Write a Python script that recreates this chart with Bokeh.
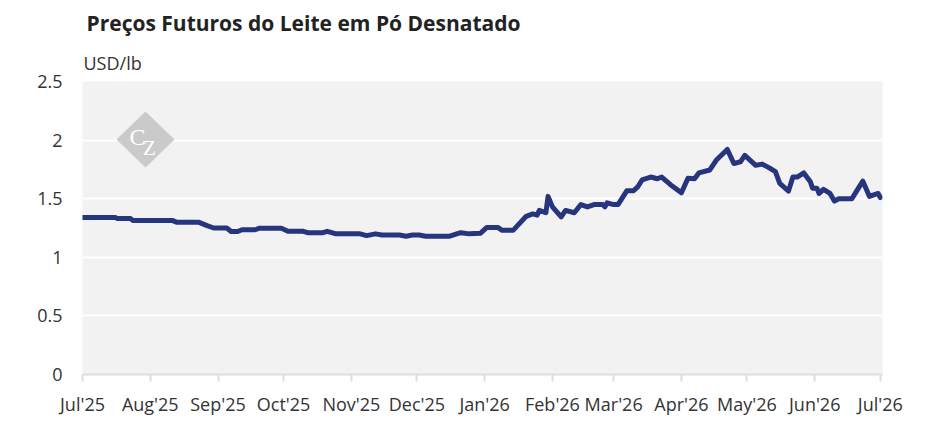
from datetime import datetime
from bokeh.plotting import figure
from bokeh.models import (ColumnDataSource, FixedTicker, Range1d, Label,
                          PolyAnnotation, Title)
from bokeh.embed import file_html
from bokeh.resources import INLINE

TITLE = "Preços Futuros do Leite em Pó Desnatado"
UNIT = "USD/lb"

DATES = [
    "2025-07-01", "2025-07-16", "2025-07-17", "2025-07-23", "2025-07-24", "2025-08-11",
    "2025-08-13", "2025-08-23", "2025-08-27", "2025-08-30", "2025-09-05", "2025-09-07",
    "2025-09-10", "2025-09-12", "2025-09-18", "2025-09-20", "2025-09-30", "2025-10-03",
    "2025-10-10", "2025-10-12", "2025-10-19", "2025-10-21", "2025-10-25", "2025-11-05",
    "2025-11-08", "2025-11-12", "2025-11-15", "2025-11-23", "2025-11-26", "2025-11-29",
    "2025-12-02", "2025-12-05", "2025-12-16", "2025-12-21", "2025-12-25", "2025-12-30",
    "2026-01-02", "2026-01-07", "2026-01-09", "2026-01-14", "2026-01-16", "2026-01-20",
    "2026-01-23", "2026-01-25", "2026-01-26", "2026-01-29", "2026-01-30", "2026-02-01",
    "2026-02-05", "2026-02-07", "2026-02-11", "2026-02-14", "2026-02-17", "2026-02-20",
    "2026-02-24", "2026-02-25", "2026-02-26", "2026-03-01", "2026-03-03", "2026-03-07",
    "2026-03-10", "2026-03-12", "2026-03-14", "2026-03-18", "2026-03-21", "2026-03-23",
    "2026-03-27", "2026-04-01", "2026-04-04", "2026-04-07", "2026-04-09", "2026-04-14",
    "2026-04-17", "2026-04-22", "2026-04-25", "2026-04-28", "2026-04-30", "2026-05-05",
    "2026-05-08", "2026-05-11", "2026-05-14", "2026-05-16", "2026-05-20", "2026-05-22",
    "2026-05-24", "2026-05-27", "2026-05-30", "2026-05-31", "2026-06-02", "2026-06-03",
    "2026-06-05", "2026-06-08", "2026-06-10", "2026-06-12", "2026-06-18", "2026-06-19",
    "2026-06-23", "2026-06-26", "2026-06-30", "2026-07-01",
]
PRICES = [
    1.34, 1.34, 1.33, 1.33, 1.315, 1.315,
    1.30, 1.30, 1.27, 1.25, 1.25, 1.22,
    1.22, 1.235, 1.235, 1.248, 1.248, 1.222,
    1.222, 1.21, 1.21, 1.222, 1.20, 1.20,
    1.185, 1.20, 1.19, 1.19, 1.18, 1.19,
    1.19, 1.18, 1.18, 1.21, 1.20, 1.205,
    1.255, 1.255, 1.23, 1.23, 1.27, 1.35,
    1.37, 1.36, 1.40, 1.38, 1.52, 1.43,
    1.345, 1.40, 1.38, 1.45, 1.43, 1.45,
    1.45, 1.43, 1.465, 1.45, 1.45, 1.567,
    1.567, 1.60, 1.66, 1.685, 1.67, 1.685,
    1.62, 1.55, 1.675, 1.67, 1.72, 1.745,
    1.83, 1.92, 1.80, 1.815, 1.87, 1.785,
    1.795, 1.765, 1.73, 1.63, 1.565, 1.685,
    1.685, 1.72, 1.645, 1.59, 1.59, 1.545,
    1.58, 1.545, 1.48, 1.50, 1.50, 1.53,
    1.65, 1.52, 1.545, 1.51,
]

TICK_DATES = ["2025-07-01", "2025-08-01", "2025-09-01", "2025-10-01", "2025-11-01",
              "2025-12-01", "2026-01-01", "2026-02-01", "2026-03-01", "2026-04-01",
              "2026-05-01", "2026-06-01", "2026-07-01"]
TICK_LABELS = ["Jul'25", "Aug'25", "Sep'25", "Oct'25", "Nov'25", "Dec'25", "Jan'26",
               "Feb'26", "Mar'26", "Apr'26", "May'26", "Jun'26", "Jul'26"]
Y_TICKS = [0, 0.5, 1, 1.5, 2, 2.5]
Y_LABELS = ["0", "0.5", "1", "1.5", "2", "2.5"]


def ms(s):
    return datetime.strptime(s, "%Y-%m-%d").timestamp() * 1000.0


src = ColumnDataSource(dict(x=[datetime.strptime(d, "%Y-%m-%d") for d in DATES], y=PRICES))

FONT = "Open Sans"
TXT = "#333333"

p = figure(width=940, height=440, x_axis_type="datetime", output_backend="svg",
           toolbar_location=None,
           x_range=Range1d(ms("2025-07-01"), ms("2026-07-02")),
           y_range=Range1d(0, 2.5),
           min_border_left=82, min_border_right=58, min_border_top=81,
           min_border_bottom=66)
p.outline_line_color = None
p.background_fill_color = "#f2f2f2"
p.border_fill_color = "white"

p.title.text = TITLE
p.title.text_font = FONT
p.title.text_font_size = "21px"
p.title.text_font_style = "bold"
p.title.text_color = "#222222"
p.title.align = "left"
p.title.offset = 4
p.title.standoff = 12

p.add_layout(Title(text=UNIT, text_font=FONT, text_font_size="18px",
                   text_font_style="normal", text_color=TXT, align="left",
                   offset=1, standoff=13), "above")

p.xgrid.grid_line_color = None
p.ygrid.grid_line_color = "white"
p.ygrid.grid_line_width = 2

tick_ms = [ms(d) for d in TICK_DATES]
p.xaxis.ticker = FixedTicker(ticks=tick_ms)
p.xaxis.major_label_overrides = {t: l for t, l in zip(tick_ms, TICK_LABELS)}
p.xaxis.minor_tick_line_color = None
p.xaxis.axis_line_color = "#dddddd"
p.xaxis.axis_line_width = 2
p.xaxis.major_tick_line_color = "#dddddd"
p.xaxis.major_tick_line_width = 2
p.xaxis.major_tick_out = 7
p.xaxis.major_tick_in = 0
p.xaxis.major_label_standoff = 10
p.xaxis.major_label_text_font = FONT
p.xaxis.major_label_text_font_size = "18px"
p.xaxis.major_label_text_color = TXT

p.yaxis.ticker = FixedTicker(ticks=Y_TICKS)
p.yaxis.major_label_overrides = {t: l for t, l in zip(Y_TICKS, Y_LABELS)}
p.yaxis.axis_line_color = None
p.yaxis.major_tick_line_color = None
p.yaxis.minor_tick_line_color = None
p.yaxis.major_tick_out = 0
p.yaxis.major_label_standoff = 20
p.yaxis.major_label_text_font = FONT
p.yaxis.major_label_text_font_size = "18px"
p.yaxis.major_label_text_color = TXT

# watermark logo
cx, cy = 63, 235
p.add_layout(PolyAnnotation(xs=[cx, cx + 29, cx, cx - 29], ys=[cy + 28, cy, cy - 28, cy],
                            xs_units="screen", ys_units="screen",
                            fill_color="#cacaca", fill_alpha=1.0, line_color=None))
p.add_layout(Label(x=cx - 8, y=cy + 3, x_units="screen", y_units="screen", text="C",
                   text_font="Liberation Serif", text_font_size="24px",
                   text_color="white", text_align="center", text_baseline="middle"))
p.add_layout(Label(x=cx + 4, y=cy - 8, x_units="screen", y_units="screen", text="Z",
                   text_font="Liberation Serif", text_font_size="21px",
                   text_color="white", text_align="center", text_baseline="middle"))

p.line("x", "y", source=src, line_color="#27357f", line_width=5,
       line_join="round", line_cap="round")

open("out.html", "w").write(file_html(p, INLINE))
